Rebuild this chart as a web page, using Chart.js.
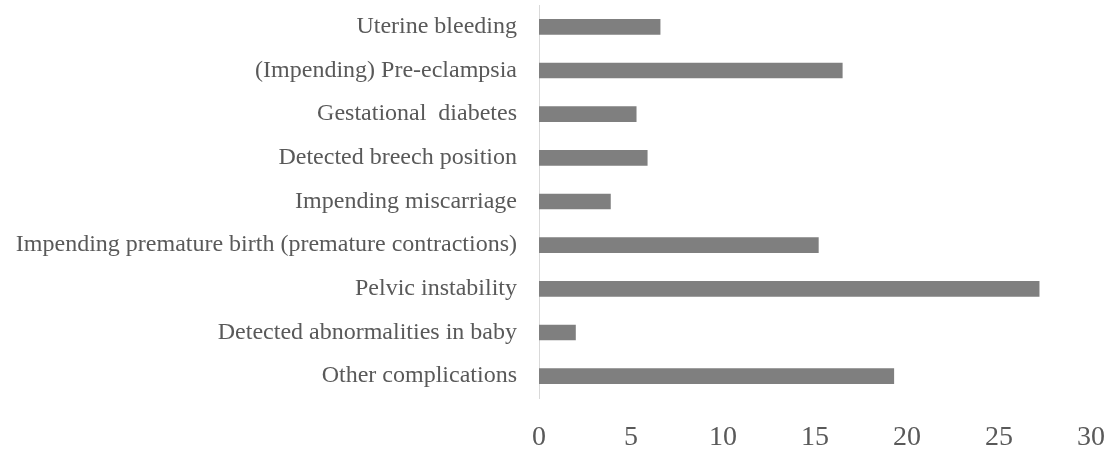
<!DOCTYPE html>
<html>
<head>
<meta charset="utf-8">
<script src="https://cdn.jsdelivr.net/npm/chart.js@4"></script>
<style>
  html, body { margin: 0; padding: 0; background: #ffffff; }
  #wrap { width: 1111px; height: 450px; position: relative; }
</style>
</head>
<body>
<div id="wrap"><canvas id="c" width="1111" height="450"></canvas></div>
<script>
const categories = [
  "Uterine bleeding",
  "(Impending) Pre-eclampsia",
  "Gestational  diabetes",
  "Detected breech position",
  "Impending miscarriage",
  "Impending premature birth (premature contractions)",
  "Pelvic instability",
  "Detected abnormalities in baby",
  "Other complications"
];
const values = [6.6, 16.5, 5.3, 5.9, 3.9, 15.2, 27.2, 2.0, 19.3];
const xTicks = [0, 5, 10, 15, 20, 25, 30];

new Chart(document.getElementById('c'), {
  type: 'bar',
  data: {
    labels: categories,
    datasets: [{
      data: values,
      backgroundColor: '#7f7f7f',
      borderWidth: 0,
      barPercentage: 0.72,
      categoryPercentage: 0.5
    }]
  },
  options: {
    indexAxis: 'y',
    responsive: false,
    animation: false,
    devicePixelRatio: 1,
    layout: { padding: { top: 5, right: 20, left: 0, bottom: 0 } },
    plugins: { legend: { display: false }, tooltip: { enabled: false } },
    scales: {
      x: {
        min: xTicks[0],
        max: xTicks[xTicks.length - 1],
        afterBuildTicks: (s) => { s.ticks = xTicks.map(v => ({ value: v })); },
        afterFit: (s) => { s.height = 52; s.paddingLeft = 0; s.paddingRight = 0; },
        grid: { display: false },
        border: { display: false },
        ticks: {
          color: '#595959',
          padding: 15,
          font: { family: "'Liberation Serif', 'Times New Roman', serif", size: 28 }
        }
      },
      y: {
        afterFit: (s) => { s.width = 539; s.paddingTop = 0; s.paddingBottom = 0; },
        grid: { display: false },
        border: { display: true, color: '#d9d9d9', width: 1 },
        ticks: {
          color: '#595959',
          padding: 14,
          font: { family: "'Liberation Serif', 'Times New Roman', serif", size: 24 }
        }
      }
    }
  }
});
</script>
</body>
</html>
